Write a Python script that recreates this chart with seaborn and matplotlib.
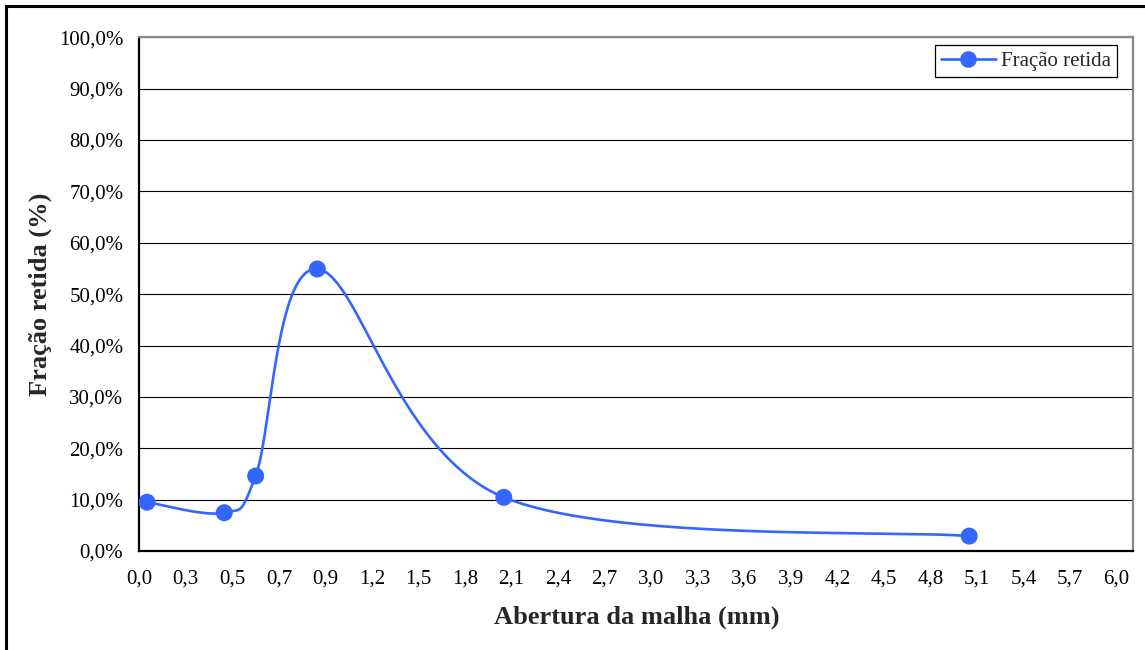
import numpy as np
import matplotlib
matplotlib.use("Agg")
import matplotlib.pyplot as plt
import seaborn as sns
import pandas as pd
from matplotlib.lines import Line2D
from matplotlib.patches import Rectangle
from matplotlib.ticker import FixedLocator, FuncFormatter

# Sieve analysis: fraction retained per mesh opening
abertura_mm = [0.05, 0.465, 0.60, 0.865, 2.05, 5.05]
fracao_retida = [9.5, 7.45, 14.6, 54.9, 10.45, 2.9]  # percent

# Horizontal axis tick values (drawn evenly spaced)
x_ticks = [0.0, 0.3, 0.5, 0.7, 0.9, 1.2, 1.5, 1.8, 2.1, 2.4, 2.7, 3.0,
           3.3, 3.6, 3.9, 4.2, 4.5, 4.8, 5.1, 5.4, 5.7, 6.0]
y_ticks = list(range(0, 101, 10))

serie = "Fração retida"
x_title = "Abertura da malha (mm)"
y_title = "Fração retida (%)"

BLUE = "#3366ff"

sns.set_style("white")
plt.rcParams["font.family"] = ["Liberation Serif", "DejaVu Serif"]

# piecewise-linear axis: each tick value sits at its own evenly spaced slot
nodes = np.array(x_ticks + [6.3])
slots = np.arange(len(nodes), dtype=float)


def fwd(v):
    return np.interp(v, nodes, slots)


def inv(s):
    return np.interp(s, slots, nodes)


def smooth_curve(px, py, n=80):
    """Cubic Bezier smoothing through the points (Catmull-Rom tangents)."""
    P = np.column_stack([px, py])
    ext = np.vstack([P[0], P, P[-1]])
    parts = []
    t = np.linspace(0, 1, n)[:, None]
    for i in range(len(P) - 1):
        p0, p1, p2, p3 = ext[i], ext[i + 1], ext[i + 2], ext[i + 3]
        c1 = p1 + (p2 - p0) / 6.0
        c2 = p2 - (p3 - p1) / 6.0
        seg = ((1 - t) ** 3) * p1 + 3 * ((1 - t) ** 2) * t * c1 \
            + 3 * (1 - t) * (t ** 2) * c2 + (t ** 3) * p2
        parts.append(seg if i == 0 else seg[1:])
    return np.vstack(parts)


pts = pd.DataFrame({"abertura": abertura_mm, "fracao": fracao_retida})
curve = smooth_curve(fwd(pts["abertura"].to_numpy()), pts["fracao"].to_numpy())
curve_df = pd.DataFrame({"abertura": inv(curve[:, 0]), "fracao": curve[:, 1]})

fig = plt.figure(figsize=(11.45, 6.5), dpi=100)
fig.patch.set_facecolor("white")
ax = fig.add_axes([139.3 / 1145, 1 - 551 / 650, (1133.3 - 139.3) / 1145, (551 - 37.3) / 650])

sns.lineplot(data=curve_df, x="abertura", y="fracao", sort=False, estimator=None,
             color=BLUE, linewidth=1.9, ax=ax, zorder=3)
sns.scatterplot(data=pts, x="abertura", y="fracao", color=BLUE, s=150,
                edgecolor="none", linewidth=0, ax=ax, zorder=4)

ax.set_xscale("function", functions=(fwd, inv))
ax.set_xlim(0.0, inv(21.36))
ax.set_ylim(0, 100)

ax.xaxis.set_major_locator(FixedLocator(x_ticks))
ax.xaxis.set_minor_locator(FixedLocator([]))
ax.xaxis.set_major_formatter(FuncFormatter(lambda v, p: f"{v:.1f}".replace(".", ",")))
ax.yaxis.set_major_locator(FixedLocator(y_ticks))
ax.yaxis.set_major_formatter(FuncFormatter(lambda v, p: f"{v:.1f}%".replace(".", ",")))

ax.grid(axis="y", color="black", linewidth=0.8)
ax.grid(axis="x", visible=False)
ax.set_axisbelow(True)

ax.tick_params(axis="both", which="major", direction="out", length=4.5, width=1.0,
               color="black", labelsize=15, labelcolor="black")
ax.tick_params(axis="y", pad=7)
ax.tick_params(axis="x", pad=9)

for side in ("left", "bottom"):
    ax.spines[side].set_color("black")
    ax.spines[side].set_linewidth(1.6)
for side in ("top", "right"):
    ax.spines[side].set_visible(True)
    ax.spines[side].set_color("#888888")
    ax.spines[side].set_linewidth(1.6)

ax.set_xlabel(x_title, fontsize=19, fontweight="bold", va="center")
ax.set_ylabel(y_title, fontsize=19, fontweight="bold", va="center")
ax.xaxis.set_label_coords(0.5, (551 - 617) / (551 - 37.3))
ax.yaxis.set_label_coords((40 - 139.3) / (1133.3 - 139.3), 0.5)

handle = Line2D([], [], color=BLUE, linewidth=1.9, marker="o", markersize=12,
                markeredgewidth=0)
leg = ax.legend([handle], [serie], loc="upper right",
                bbox_to_anchor=((1117 - 139.3) / (1133.3 - 139.3), (551 - 45) / (551 - 37.3)),
                borderaxespad=0, fontsize=15, frameon=True, fancybox=False,
                edgecolor="black", framealpha=1, handlelength=2.6,
                handletextpad=0.25, borderpad=0.3)
leg.get_frame().set_linewidth(0.9)

# outer chart frame
fig.patches.append(Rectangle((6.3 / 1145, -0.2), 1.5, 1.2 - 6.3 / 650 + 0.0,
                             transform=fig.transFigure, fill=False,
                             edgecolor="black", linewidth=2.2, zorder=10))

fig.savefig("out.png", dpi=100, facecolor="white")
